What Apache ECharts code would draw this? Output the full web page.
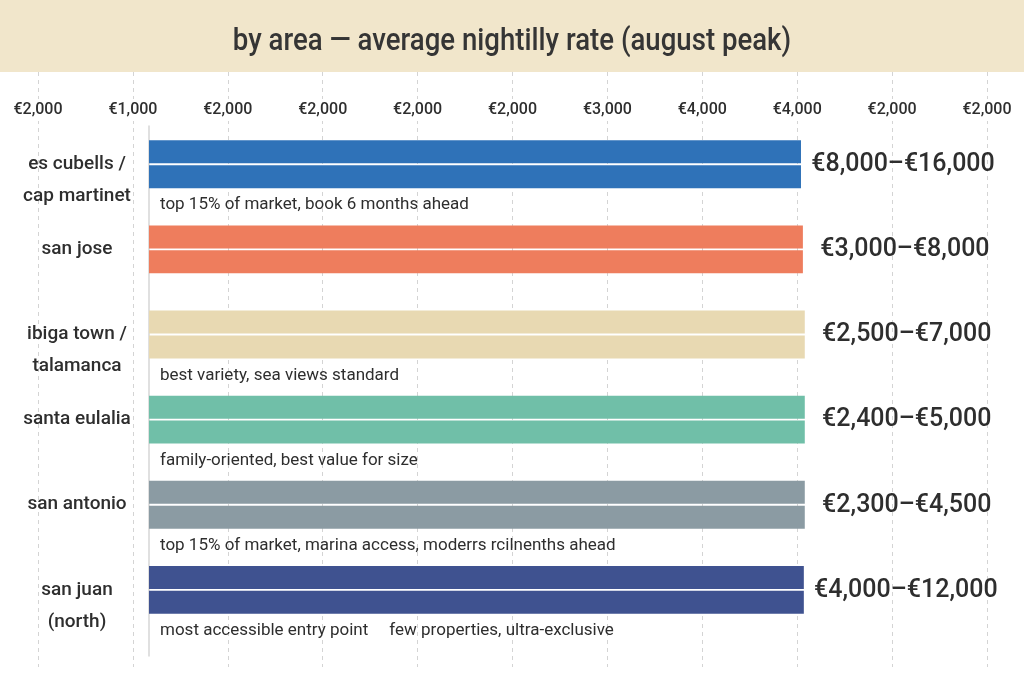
<!DOCTYPE html>
<html>
<head>
<meta charset="UTF-8">
<title>by area — average nightly rate</title>
<script src="https://cdn.jsdelivr.net/npm/echarts@6/dist/echarts.min.js"></script>
<style>
    html, body { margin: 0; padding: 0; background: #fff; }
    #chart { width: 1024px; height: 683px; }
</style>
</head>
<body>
<div id="chart"></div>
<script>
// data (bar ends are in tick steps of the top axis)
var titleText = 'by area — average nightilly rate (august peak)';
var tickLabels = ['€2,000', '€1,000', '€2,000', '€2,000', '€2,000', '€2,000', '€3,000', '€4,000', '€4,000', '€2,000', '€2,000'];
var areas = ['es cubells /\ncap martinet', 'san jose', 'ibiga town /\ntalamanca', 'santa eulalia', 'san antonio', 'san juan\n(north)'];
var barStart = 1.17;
var barEnd = [8.04, 8.06, 8.08, 8.08, 8.08, 8.07];
var rangeLabels = ['€8,000–€16,000', '€3,000–€8,000', '€2,500–€7,000', '€2,400–€5,000', '€2,300–€4,500', '€4,000–€12,000'];
var notes = [
    'top 15% of market, book 6 months ahead',
    '',
    'best variety, sea views standard',
    'family-oriented, best value for size',
    'top 15% of market, marina access, moderrs rcilnenths ahead',
    'most accessible entry point     few properties, ultra-exclusive'
];

// styles
var barColors = ['#2f72b8', '#ee7d5d', '#e8d9b2', '#70bfa8', '#8b9ba3', '#3f5290'];
var face = "Roboto, 'Noto Sans', sans-serif";
var ink = '#2e2e2e';

var chart = echarts.init(document.getElementById('chart'));

var upper = barEnd.map(function (v, i) {
    return {value: v, itemStyle: {color: barColors[i]}};
});
var lower = barEnd.map(function (v, i) {
    return {value: v, itemStyle: {color: barColors[i]}};
});

chart.setOption({
    backgroundColor: '#fff',
    animation: false,
    graphic: [{
        type: 'rect',
        left: 0, top: 0,
        shape: {width: 1024, height: 72},
        style: {fill: '#f1e6cb'},
        z: -10
    }, {
        // condensed heading: squeeze the text horizontally
        type: 'text',
        x: 512, y: 42,
        scaleX: 0.89,
        style: {
            text: titleText,
            x: 0, y: 0,
            align: 'center',
            verticalAlign: 'middle',
            font: '500 31px ' + face,
            fill: '#353535'
        }
    }],
    grid: [
        {left: 38, right: 37, top: 72, bottom: 16},
        {left: 149, right: 37, top: 121.7, bottom: 50.6},
        {left: 149, width: 1, top: 126, bottom: 27}
    ],
    xAxis: [
        {
            gridIndex: 0,
            type: 'value',
            position: 'top',
            min: 0,
            max: tickLabels.length - 1,
            interval: 1,
            axisLine: {show: false},
            axisTick: {show: false},
            axisLabel: {
                inside: true,
                margin: 27,
                showMinLabel: true,
                showMaxLabel: true,
                fontFamily: face,
                fontSize: 16,
                fontWeight: 500,
                color: ink,
                backgroundColor: '#fff',
                padding: [3, 3],
                formatter: function (v) { return tickLabels[Math.round(v)]; }
            },
            splitLine: {show: true, lineStyle: {color: '#d4d4d4', type: [4, 4], width: 1}}
        },
        {
            gridIndex: 1,
            type: 'value',
            min: barStart,
            max: tickLabels.length - 1,
            show: false
        },
        {
            gridIndex: 2,
            type: 'value',
            show: false
        }
    ],
    yAxis: [
        {
            gridIndex: 0,
            type: 'value',
            min: 0,
            max: 1,
            show: false
        },
        {
            gridIndex: 1,
            type: 'category',
            inverse: true,
            data: areas,
            axisLine: {show: false},
            axisTick: {show: false},
            axisLabel: {
                margin: 72,
                align: 'center',
                fontFamily: face,
                fontSize: 19,
                fontWeight: 500,
                lineHeight: 32,
                color: ink,
                formatter: function (v) {
                    return v.indexOf('\n') >= 0 ? '{two|' + v.split('\n').join('}\n{two|') + '}' : v;
                },
                rich: {
                    two: {fontFamily: face, fontSize: 19, fontWeight: 500, lineHeight: 32, color: ink, padding: [32, 0, 0, 0]}
                }
            }
        },
        {
            gridIndex: 2,
            type: 'value',
            min: 0,
            max: 1,
            axisLine: {show: true, lineStyle: {color: '#d6d6d6', width: 1.5}},
            axisTick: {show: false},
            axisLabel: {show: false},
            splitLine: {show: false}
        }
    ],
    series: [
        {
            type: 'bar',
            xAxisIndex: 1,
            yAxisIndex: 1,
            barWidth: 23,
            barGap: '8%',
            data: upper,
            label: {
                show: true,
                position: 'right',
                distance: 102,
                align: 'center',
                offset: [0, 13],
                fontFamily: face,
                fontSize: 25,
                fontWeight: 500,
                color: ink,
                formatter: function (p) { return rangeLabels[p.dataIndex]; }
            }
        },
        {
            type: 'bar',
            xAxisIndex: 1,
            yAxisIndex: 1,
            barWidth: 23,
            data: lower,
            label: {
                show: true,
                position: [11, 40],
                align: 'left',
                verticalAlign: 'middle',
                fontFamily: face,
                fontSize: 17,
                color: ink,
                formatter: function (p) { return notes[p.dataIndex]; }
            }
        }
    ]
});
</script>
</body>
</html>
